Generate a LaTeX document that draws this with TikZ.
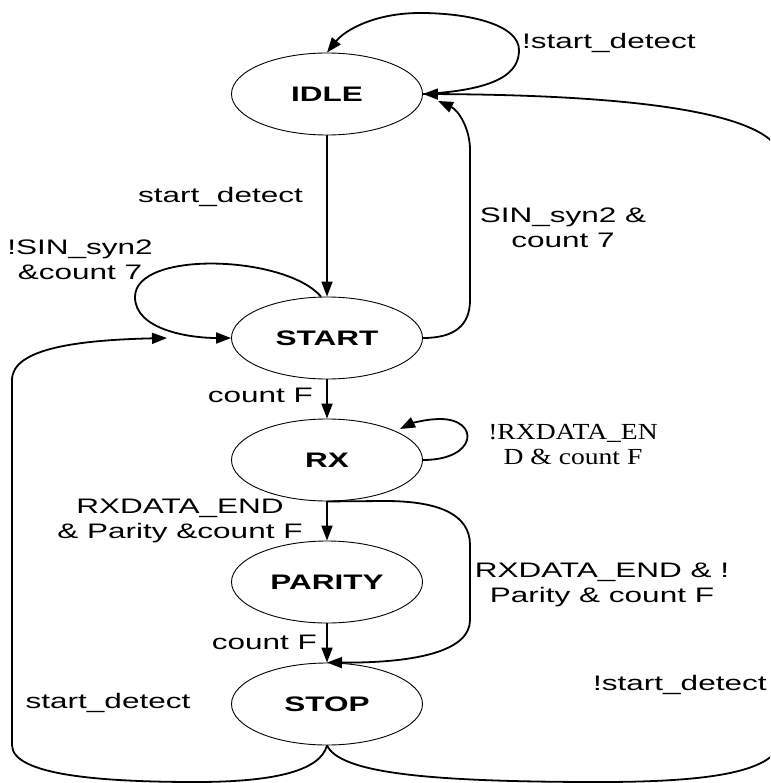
\documentclass[tikz,border=0pt]{standalone}
\usepackage{fontspec}
\setmainfont{Liberation Sans}[FakeStretch=1.5]
\newfontfamily\serifl{Liberation Serif}[FakeStretch=1.2]
\usetikzlibrary{shapes.geometric,arrows.meta}
\begin{document}
\begin{tikzpicture}[x=1pt,y=-1pt,
  state/.style={draw,ellipse,line width=0.9pt,minimum width=191pt,minimum height=82pt,inner sep=0pt,
    font=\fontsize{21}{25}\selectfont\bfseries},
  edge/.style={line width=1.8pt,-{Triangle[length=15pt,width=11pt]}},
  lbl/.style={font=\fontsize{21}{25}\selectfont,inner sep=0pt,align=center},
  slbl/.style={font=\serifl\fontsize{23}{25}\selectfont,inner sep=0pt,align=center}]
\useasboundingbox (0,0) rectangle (770,783);
\fill[white] (0,0) rectangle (770,783);
\clip (0,0) rectangle (770,783);

\node[state] (IDLE)   at (327,94)  {IDLE};
\node[state] (START)  at (327,338) {START};
\node[state] (RX)     at (327,460) {RX};
\node[state] (PARITY) at (327,582) {PARITY};
\node[state] (STOP)   at (327,704) {STOP};

\coordinate (i2) at (438,101);
\coordinate (rxl) at (400,429);

% IDLE self loop
\draw[edge] (IDLE.east) .. controls (500,90) and (519,72) .. (519,50)
  .. controls (519,25) and (470,13) .. (420,13)
  .. controls (375,13) and (345,30) .. (IDLE.north);
% IDLE -> START
\draw[edge] (IDLE) -- (START);
% START -> IDLE
\draw[edge] (START.east) .. controls (455,338) and (470,325) .. (470,300) -- (470,150)
  .. controls (470,128) and (458,110) .. (i2);
% START self loop
\draw[edge] ([xshift=-6pt]START.north) .. controls (285,255) and (135,250) .. (135,297)
  .. controls (135,330) and (190,338) .. (START.west);
% START -> RX
\draw[edge] (START) -- (RX);
% RX self loop
\draw[edge] (RX.east) .. controls (478,460) and (480,419) .. (440,419)
  .. controls (425,419) and (410,424) .. (rxl);
% RX -> PARITY
\draw[edge] (RX) -- (PARITY);
% RX -> STOP
\draw[edge] (RX.south) -- (385,501) .. controls (440,501) and (470,515) .. (470,545) -- (470,620)
  .. controls (470,650) and (420,663) .. (STOP.north);
% PARITY -> STOP
\draw[edge] (PARITY) -- (STOP);
% STOP -> START
\draw[edge] (STOP.south) .. controls (320,772) and (270,782) .. (196,782)
  .. controls (100,782) and (12,775) .. (12,745) -- (12,380)
  .. controls (12,348) and (80,340) .. (167,338);
% STOP -> IDLE
\draw[edge] (STOP.south) .. controls (340,772) and (420,782) .. (600,782)
  .. controls (720,782) and (782,770) .. (782,735) -- (782,160)
  .. controls (778,110) and (620,95) .. (IDLE.east);

% labels
\node[lbl,anchor=west] (l1) at (522,43) {!start\_detect};
\node[lbl,anchor=east] (l2) at (303,197) {start\_detect};
\node[lbl] (l3) at (563,228) {SIN\_syn2 \&\\count 7};
\node[lbl] (l4) at (80,260) {!SIN\_syn2\\\&count 7};
\node[lbl,anchor=east] (l5) at (313,395) {count F};
\node[slbl] (l6) at (573,445) {!RXDATA\_EN\\D \& count F};
\node[lbl] (l7) at (180,521) {RXDATA\_END\\\& Parity \&count F};
\node[lbl] (l8) at (602,585) {RXDATA\_END \& !\\Parity \& count F};
\node[lbl,anchor=east] (l9) at (317,642) {count F};
\node[lbl] (l10) at (108,703) {start\_detect};
\node[lbl,anchor=west] (l11) at (593,685) {!start\_detect};
\end{tikzpicture}
\end{document}
